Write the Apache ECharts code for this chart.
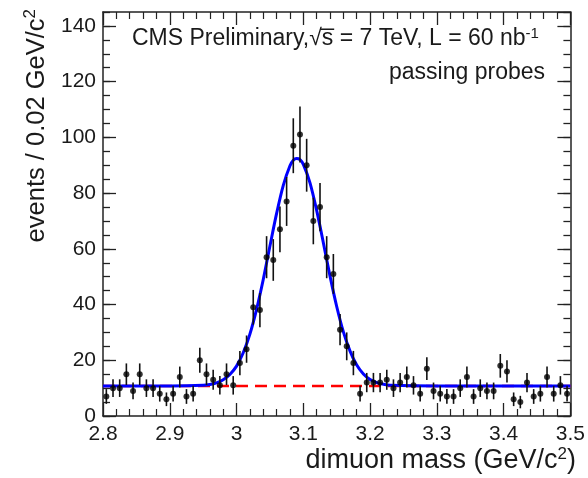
<!DOCTYPE html>
<html><head><meta charset="utf-8">
<script src="https://cdn.jsdelivr.net/npm/echarts@6/dist/echarts.min.js"></script>
<style>html,body{margin:0;padding:0;background:#fff}#c{width:588px;height:478px}</style>
</head><body><div id="c"></div>
<script>
// Bin centres (GeV/c^2)
const binCenters = [
  2.805,2.815,2.825,2.835,2.845,2.855,2.865,2.875,2.885,2.895,
  2.905,2.915,2.925,2.935,2.945,2.955,2.965,2.975,2.985,2.995,
  3.005,3.015,3.025,3.035,3.045,3.055,3.065,3.075,3.085,3.095,
  3.105,3.115,3.125,3.135,3.145,3.155,3.165,3.175,3.185,3.195,
  3.205,3.215,3.225,3.235,3.245,3.255,3.265,3.275,3.285,3.295,
  3.305,3.315,3.325,3.335,3.345,3.355,3.365,3.375,3.385,3.395,
  3.405,3.415,3.425,3.435,3.445,3.455,3.465,3.475,3.485,3.495
];
// Events per bin
const counts = [
  7,10,10,15,9,15,10,10,8,6,
  8,14,7,8,20,15,13,11,15,11,
  19,24,39,38,57,56,67,77,97,101,
  90,70,75,57,51,31,25,19,8,12,
  12,12,13,10,12,14,11,8,17,9,
  8,7,7,10,14,7,10,9,9,18,
  16,6,5,12,7,8,14,8,11,8
];
// Fit curve (signal + background)
const fitMass = [2.80,2.90,2.95,2.96,2.97,2.98,2.99,3.00,3.01,3.02,3.03,3.04,3.05,3.06,3.07,3.08,3.085,3.09,3.095,3.10,3.11,3.12,3.13,3.14,3.15,3.16,3.17,3.18,3.19,3.20,3.21,3.22,3.23,3.30,3.50];
const fitValue = [10.8,10.8,11.0,11.3,11.9,13.0,14.9,17.9,22.7,29.4,38.3,49.0,61.0,72.7,82.8,89.8,91.8,92.4,92.0,90.3,83.7,73.8,62.2,50.2,39.3,30.2,23.3,18.3,15.1,13.1,12.0,11.4,11.05,10.8,10.8];
// Background component
const bgMass = [2.80, 3.50];
const bgValue = [10.8, 10.8];

const FONT = "'Liberation Sans', Arial, Helvetica, sans-serif";
const TXT = '#1a1a1a';

const chart = echarts.init(document.getElementById('c'), null, {renderer:'canvas'});

function xAx(pos, labels){
  return {
    type:'value', position:pos, min:2.8, max:3.5, interval:0.1,
    axisLine:{show:true, onZero:false, lineStyle:{color:'#222', width:1.5}},
    axisTick:{show:true, inside:true, length:13, lineStyle:{color:'#222', width:1.3}},
    minorTick:{show:true, splitNumber:5, length:7, lineStyle:{color:'#222', width:1.2}},
    splitLine:{show:false}, minorSplitLine:{show:false},
    axisLabel:{show:labels, color:TXT, fontSize:21, fontFamily:FONT, margin:8}
  };
}
function yAx(pos, major, labels){
  return {
    type:'value', position:pos, min:0, max:145, interval: major ? 20 : 5,
    axisLine:{show:major, onZero:false, lineStyle:{color:'#222', width:1.5}},
    axisTick:{show:true, inside:true, length: major ? 13 : 7, lineStyle:{color:'#222', width:1.3}},
    splitLine:{show:false},
    axisLabel:{show:labels, color:TXT, fontSize:21, fontFamily:FONT, margin:7, showMaxLabel:false}
  };
}

const option = {
  animation:false,
  backgroundColor:'#fff',
  grid:{left:103, right:12, top:12, bottom:62, containLabel:false},
  xAxis:[xAx('bottom', true), xAx('top', false)],
  yAxis:[yAx('left', true, true), yAx('left', false, false), yAx('right', true, false), yAx('right', false, false)],
  series:[
    {
      type:'line', data: bgMass.map((m,i)=>[m,bgValue[i]]),
      showSymbol:false, symbol:'none',
      lineStyle:{color:'#ff0000', width:2.5, type:[12,7]}, z:2
    },
    {
      type:'line', data: fitMass.map((m,i)=>[m,fitValue[i]]),
      showSymbol:false, symbol:'none', smooth:0.3,
      lineStyle:{color:'#0000ff', width:3}, z:3
    },
    {
      type:'custom', z:4,
      data: binCenters.map((m,i)=>[m, counts[i]-Math.sqrt(counts[i]), counts[i]+Math.sqrt(counts[i])]),
      encode:{x:0, y:[1,2]},
      renderItem:(params, api)=>{
        const lo = api.coord([api.value(0), api.value(1)]);
        const hi = api.coord([api.value(0), api.value(2)]);
        return {type:'line', shape:{x1:lo[0], y1:lo[1], x2:hi[0], y2:hi[1]},
                style:{stroke:'#111', lineWidth:1.6}};
      }
    },
    {
      type:'scatter', z:5,
      data: binCenters.map((m,i)=>[m, counts[i]]),
      symbol:'circle', symbolSize:6,
      itemStyle:{color:'#000'}
    }
  ],
  graphic:[
    {
      type:'text', x:132, y:39, z:10,
      style:{
        text:'{t|CMS Preliminary,√s\u0305 = 7 TeV, L = 60 nb}{s|-1}',
        align:'left', verticalAlign:'middle',
        rich:{
          t:{fontSize:23, fontFamily:FONT, fill:TXT, lineHeight:26},
          s:{fontSize:15, fontFamily:FONT, fill:TXT, verticalAlign:'top', lineHeight:26}
        }
      }
    },
    {
      type:'text', x:545, y:73, z:10,
      style:{text:'passing probes', align:'right', verticalAlign:'middle',
             fontSize:23, fontFamily:FONT, fill:TXT}
    },
    {
      type:'text', x:576, y:461, z:10,
      style:{
        text:'{t|dimuon mass (GeV/c}{s|2}{t|)}',
        align:'right', verticalAlign:'middle',
        rich:{
          t:{fontSize:27, fontFamily:FONT, fill:TXT, lineHeight:31},
          s:{fontSize:17, fontFamily:FONT, fill:TXT, verticalAlign:'top', lineHeight:31}
        }
      }
    },
    {
      type:'text', x:37, y:9, z:10, rotation:Math.PI/2,
      style:{
        text:'{t|events / 0.02 GeV/c}{s|2}',
        align:'right', verticalAlign:'middle',
        rich:{
          t:{fontSize:25.5, fontFamily:FONT, fill:TXT, lineHeight:30},
          s:{fontSize:17, fontFamily:FONT, fill:TXT, verticalAlign:'top', lineHeight:30}
        }
      }
    }
  ]
};
chart.setOption(option);
</script>
</body></html>
